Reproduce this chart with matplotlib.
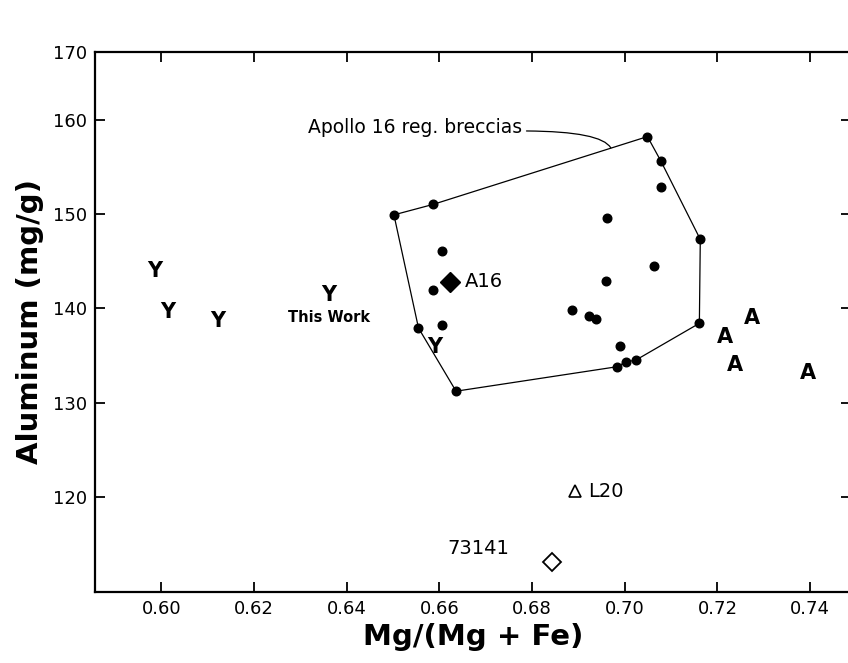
import matplotlib
matplotlib.use("Agg")
import matplotlib.pyplot as plt
import numpy as np

# Apollo 16 regolith breccias: hull vertices (in drawing order) and interior points
hull_x = [0.6502, 0.6586, 0.7049, 0.7078, 0.7163, 0.7161, 0.7024, 0.7002, 0.6984, 0.6636, 0.6555]
hull_y = [149.9, 151.0, 158.2, 155.6, 147.3, 138.4, 134.5, 134.3, 133.8, 131.2, 137.9]
inner_x = [0.7078, 0.6962, 0.6606, 0.7063, 0.6960, 0.6587, 0.6887, 0.6923, 0.6937, 0.6605, 0.6990]
inner_y = [152.9, 149.6, 146.1, 144.5, 142.9, 141.9, 139.8, 139.2, 138.9, 138.2, 136.0]

# Y (Yamato) and A (ALHA) meteorites
y_x = [0.5985, 0.6014, 0.6122, 0.6362, 0.6591]
y_y = [143.9, 139.6, 138.6, 141.4, 135.9]
a_x = [0.7274, 0.7217, 0.7237, 0.7395]
a_y = [139.0, 136.9, 134.0, 133.1]

a16 = (0.6622, 142.8)
l20 = (0.6892, 120.6)
s73141 = (0.6843, 113.1)

x_ticks = [0.60, 0.62, 0.64, 0.66, 0.68, 0.70, 0.72, 0.74]
y_ticks = [120, 130, 140, 150, 160]

plt.rcParams['font.family'] = ['DejaVu Sans']

fig = plt.figure(figsize=(8.48, 6.63), dpi=100)
ax = fig.add_axes([0.112, 0.107, 0.892, 0.815])

xmin, xmax = 0.5857, 0.7489
ymin, ymax = 109.9, 167.2
ax.set_xlim(xmin, xmax)
ax.set_ylim(ymin, ymax)

# hull outline
px = hull_x + hull_x[:1]
py = hull_y + hull_y[:1]
ax.plot(px, py, color='black', lw=0.9, zorder=2)
ax.plot(hull_x, hull_y, 'o', color='black', ms=6.2, zorder=3)
ax.plot(inner_x, inner_y, 'o', color='black', ms=6.2, zorder=3)

for xv, yv in zip(y_x, y_y):
    ax.text(xv, yv, 'Y', ha='center', va='center', fontsize=15,
            fontweight='semibold', zorder=4)
ax.text(0.6362, 139.0, 'This Work', ha='center', va='center',
        fontsize=10.5, fontweight='bold')

for xv, yv in zip(a_x, a_y):
    ax.text(xv, yv, 'A', ha='center', va='center', fontsize=15,
            fontweight='bold', zorder=4)

ax.plot(*a16, 'D', color='black', ms=10, zorder=4)
ax.text(a16[0] + 0.0033, a16[1], 'A16', ha='left', va='center', fontsize=14)

ax.plot(*l20, '^', mfc='white', mec='black', mew=1.2, ms=9, zorder=4)
ax.text(l20[0] + 0.0030, l20[1], 'L20', ha='left', va='center', fontsize=14)

ax.plot(*s73141, 'D', mfc='white', mec='black', mew=1.3, ms=9, zorder=4)
ax.text(s73141[0] - 0.0159, s73141[1] + 1.4, '73141', ha='center',
        va='center', fontsize=14)

ax.annotate('Apollo 16 reg. breccias', xy=(0.6970, 157.0),
            xytext=(0.6548, 159.2), ha='center', va='center', fontsize=13.5,
            arrowprops=dict(arrowstyle='-', color='black', lw=0.9,
                            shrinkA=1, shrinkB=0,
                            connectionstyle='angle3,angleA=0,angleB=-60',
                            relpos=(1.0, 0.3)))

ax.set_xticks(x_ticks)
ax.set_xticklabels([f'{v:.2f}' for v in x_ticks])
ax.set_yticks(y_ticks + [ymax])
ax.set_yticklabels([str(v) for v in y_ticks] + ['170'])
ax.tick_params(direction='in', top=True, right=True, length=7, width=1.3,
               labelsize=13, pad=6)
for sp in ax.spines.values():
    sp.set_linewidth(1.6)

ax.set_xlabel('Mg/(Mg + Fe)', fontsize=21, fontweight='bold', labelpad=3)
ax.set_ylabel('Aluminum (mg/g)', fontsize=21, fontweight='bold', labelpad=6)

fig.savefig('out.png', dpi=100)
